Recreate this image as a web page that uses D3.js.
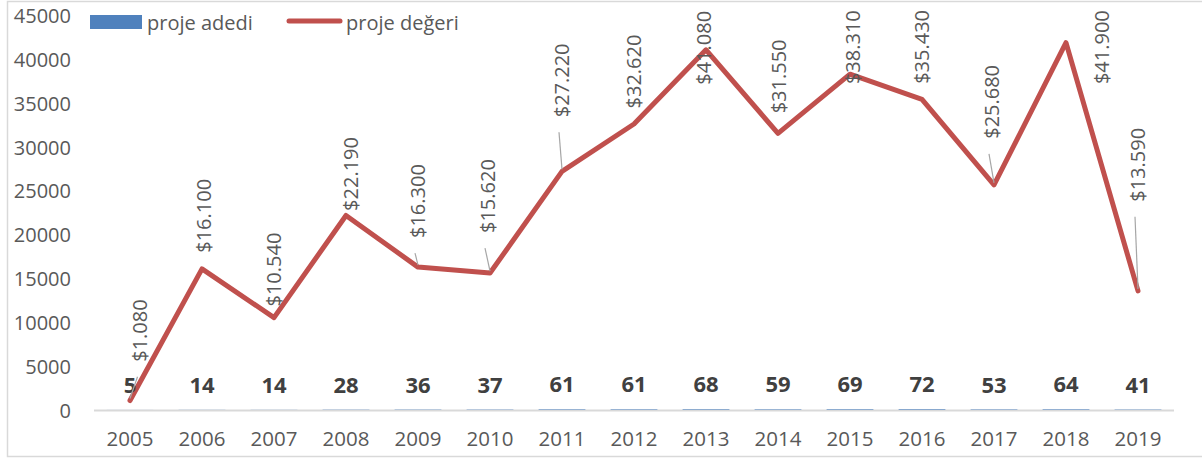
<!DOCTYPE html>
<html>
<head>
<meta charset="utf-8">
<script src="https://cdn.jsdelivr.net/npm/d3@7"></script>
<style>
  html, body { margin: 0; padding: 0; background: #fff; }
  svg { display: block; font-family: "Open Sans", "Noto Sans", sans-serif; }
</style>
</head>
<body>
<svg id="chart" width="1202" height="461"></svg>
<script>
// ---- data ----
const years = ["2005","2006","2007","2008","2009","2010","2011","2012","2013","2014","2015","2016","2017","2018","2019"];
const projeAdedi = [5, 14, 14, 28, 36, 37, 61, 61, 68, 59, 69, 72, 53, 64, 41];
const projeDegeri = [1080, 16100, 10540, 22190, 16300, 15620, 27220, 32620, 41080, 31550, 38310, 35430, 25680, 41900, 13590];
const degerLabels = ["$1.080","$16.100","$10.540","$22.190","$16.300","$15.620","$27.220","$32.620","$41.080","$31.550","$38.310","$35.430","$25.680","$41.900","$13.590"];
const yTicks = [0, 5000, 10000, 15000, 20000, 25000, 30000, 35000, 40000, 45000];
const seriesNames = ["proje adedi", "proje değeri"];

// ---- layout (label placement offsets in px, relative to point) ----
const labelDx = [9.5, 1, -1, 4, -1, -3, -1, -1, -3, 0, 2, -1, -3, 35, -1];
const labelDy = [-70, -53, -48, -41.5, -66, -77, -91, -52.5, -2, -57, -27, -52.5, -83, 4.5, -126];

const svg = d3.select("#chart");
const blue = "#4F81BD", red = "#C0504D", textCol = "#595959";

// chart border
svg.append("rect").attr("x", 7.5).attr("y", 1.5).attr("width", 1300).attr("height", 455)
  .attr("fill", "none").attr("stroke", "#D9D9D9").attr("stroke-width", 1.5);

const x = d3.scaleBand().domain(years).range([94, 1174]).paddingInner(0.35).paddingOuter(0.175);
const y = d3.scaleLinear().domain([0, 45000]).range([410, 15.5]);
const cx = d => x(d) + x.bandwidth() / 2;

// y axis labels
const yAxis = svg.append("g").attr("transform", "translate(71,0)")
  .call(d3.axisLeft(y).tickValues(yTicks).tickSize(0).tickPadding(0).tickFormat(d3.format("d")));
yAxis.select(".domain").remove();
yAxis.selectAll("text").attr("fill", textCol).attr("font-size", 20).attr("font-family", "Open Sans").attr("dy", "0.35em");

// x axis
const xAxis = svg.append("g").attr("transform", "translate(0,410.5)")
  .call(d3.axisBottom(x).tickSize(0).tickPadding(21));
xAxis.select(".domain").attr("stroke", "#D9D9D9").attr("stroke-width", 2)
  .attr("d", "M94,0H1174");
xAxis.selectAll("text").attr("fill", textCol).attr("font-size", 20.5).attr("font-family", "Open Sans");

// bars (proje adedi) - tiny relative to axis
svg.append("g").selectAll("rect").data(years).join("rect")
  .attr("x", d => x(d)).attr("width", x.bandwidth())
  .attr("y", (d, i) => y(projeAdedi[i]))
  .attr("height", (d, i) => y(0) - y(projeAdedi[i]))
  .attr("fill", blue);

// line (proje değeri)
const line = d3.line().x((d, i) => cx(years[i])).y(d => y(d));
svg.append("path").datum(projeDegeri).attr("d", line)
  .attr("fill", "none").attr("stroke", red).attr("stroke-width", 5)
  .attr("stroke-linejoin", "round").attr("stroke-linecap", "round");

// bar value labels
svg.append("g").selectAll("text").data(years).join("text")
  .attr("x", d => cx(d)).attr("y", (d, i) => y(projeAdedi[i]) - 26)
  .attr("text-anchor", "middle").attr("dominant-baseline", "central")
  .attr("font-size", 22).attr("font-weight", "bold").attr("fill", "#404040")
  .text((d, i) => projeAdedi[i]);

// leader lines + line labels
const lbl = svg.append("g");
years.forEach((yr, i) => {
  const px = cx(yr), py = y(projeDegeri[i]);
  const lx = px + labelDx[i], ly = py + labelDy[i];
  const t = lbl.append("text")
    .attr("transform", `translate(${lx},${ly}) rotate(-90)`)
    .attr("text-anchor", "middle").attr("dominant-baseline", "central")
    .attr("font-size", 20).attr("fill", textCol)
    .text(degerLabels[i]);
  if (labelDy[i] < -60) {
    const half = t.node().getComputedTextLength() / 2;
    lbl.append("line")
      .attr("x1", lx - 2).attr("y1", ly + half + 15)
      .attr("x2", px).attr("y2", py - 2)
      .attr("stroke", "#A6A6A6").attr("stroke-width", 1.2);
  }
});

// legend
const lg = svg.append("g");
lg.append("rect").attr("x", 90).attr("y", 15).attr("width", 52).attr("height", 14).attr("fill", blue);
lg.append("text").attr("x", 147).attr("y", 22).attr("dominant-baseline", "central")
  .attr("font-size", 20).attr("fill", textCol).text(seriesNames[0]);
lg.append("line").attr("x1", 289).attr("x2", 340).attr("y1", 21).attr("y2", 21)
  .attr("stroke", red).attr("stroke-width", 5).attr("stroke-linecap", "round");
lg.append("text").attr("x", 346).attr("y", 22).attr("dominant-baseline", "central")
  .attr("font-size", 20).attr("fill", textCol).text(seriesNames[1]);
</script>
</body>
</html>
